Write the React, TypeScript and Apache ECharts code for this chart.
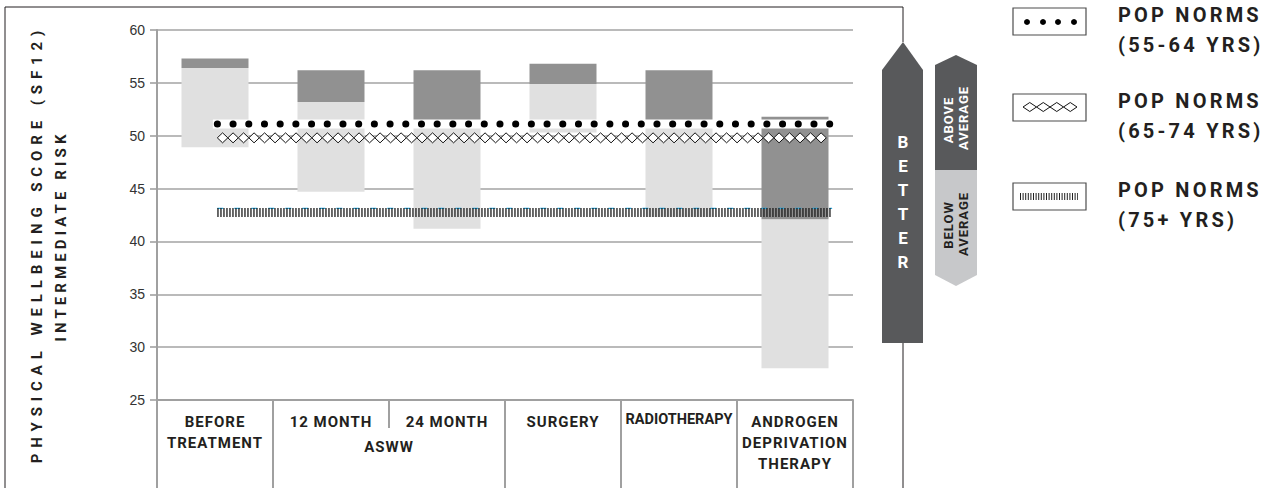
import { useEffect, useRef } from 'react';
import * as echarts from 'echarts';

// categories along the bottom, and the group label spanning two of them
const categories = ['BEFORE\nTREATMENT', '12 MONTH', '24 MONTH', 'SURGERY', 'RADIOTHERAPY', 'ANDROGEN\nDEPRIVATION\nTHERAPY'];
const groupLabels = [{ name: 'ASWW', from: 1, to: 2 }];

// floating ranges per category: light band low..mid, dark band mid..high
const rangeLow = [48.9, 44.7, 41.2, 50.3, 42.3, 28.0];
const rangeMid = [56.4, 53.2, 51.0, 54.9, 51.0, 42.1];
const rangeHigh = [57.3, 56.2, 56.2, 56.8, 56.2, 51.8];

// population norm reference lines
const norm5564 = 51.1;
const norm6574 = 49.8;
const norm75 = 42.74;
const norm75Ref = 43.13; // thin cyan line peeking out above the hatch
const normSpan = [0.52, 5.82]; // extent on the 0..6 category scale

const legendItems = [
  ['POP NORMS', '(55-64 YRS)'],
  ['POP NORMS', '(65-74 YRS)'],
  ['POP NORMS', '(75+ YRS)'],
];
const yTitle = ['PHYSICAL WELLBEING SCORE (SF12)', 'INTERMEDIATE RISK'];

const BASE = "Roboto, 'Liberation Sans', sans-serif";
// first family name is a dummy marker used by the css letter-spacing rules below
const F_TITLE1 = `tkY, ${BASE}`;
const F_TITLE2 = `tkZ, ${BASE}`;
const F_CAT = `tkC, ${BASE}`;
const F_TIGHT = `tkR, ${BASE}`;
const F_LEGEND = `tkL, ${BASE}`;
const F_AVG = `tkA, ${BASE}`;
const F_BETTER = `tkB, ${BASE}`;

const INK = '#231f20';
const GRID = '#a0a0a0';
const DARK = '#919191';
const LIGHT = '#e0e0e0';
const ARROW = '#58595b';

export default function App() {
  const ref = useRef<HTMLDivElement | null>(null);

  useEffect(() => {
    if (!ref.current) return;
    const chart = echarts.init(ref.current, undefined, { renderer: 'svg' });

    const lightVals = rangeMid.map((m, i) => +(m - rangeLow[i]).toFixed(2));
    const darkVals = rangeHigh.map((h, i) => +(h - rangeMid[i]).toFixed(2));
    const normLine = (v: number) => [[normSpan[0], v], [normSpan[1], v]];
    const boundaries = categories.map((_, i) => i).concat(categories.length);
    const inGroup = (b: number) => groupLabels.some((g) => b > g.from && b <= g.to);
    const longTicks = boundaries.filter((b) => !inGroup(b));
    const shortTicks = boundaries.filter(inGroup);
    const groupCenters = groupLabels.map((g) => (g.from + g.to + 1) / 2);

    const rotText = (text: string, x: number, y: number, font: string, fill: string) => ({
      type: 'text',
      x,
      y,
      rotation: Math.PI / 2,
      style: { text, fill, font, align: 'center', verticalAlign: 'middle' },
    });

    // legend swatches (decoration)
    const legendY = [8, 94, 183];
    const swatches: any[] = [];
    legendY.forEach((y, k) => {
      swatches.push({
        type: 'rect',
        shape: { x: 1013, y, width: 73, height: 27 },
        style: { fill: '#fff', stroke: '#4d4d4d', lineWidth: 1.2 },
      });
      legendItems[k].forEach((line, j) =>
        swatches.push({
          type: 'text',
          x: 1118,
          y: y + 7 + j * 29.5,
          style: { text: line, fill: INK, font: `bold 20px ${F_LEGEND}`, align: 'left', verticalAlign: 'middle' },
        })
      );
    });
    [1027, 1043, 1058, 1074].forEach((cx) =>
      swatches.push({ type: 'circle', shape: { cx, cy: 22, r: 3 }, style: { fill: '#000' } })
    );
    [0, 1, 2, 3].forEach((i) => {
      const x = 1023 + i * 13.5;
      swatches.push({
        type: 'polygon',
        shape: { points: [[x, 107], [x + 6.75, 102.5], [x + 13.5, 107], [x + 6.75, 111.5]] },
        style: { fill: '#fff', stroke: '#111', lineWidth: 1 },
      });
    });
    swatches.push({
      type: 'line',
      shape: { x1: 1020, y1: 196.5, x2: 1078, y2: 196.5 },
      style: { stroke: '#222', lineWidth: 7, lineDash: [1, 1.6] },
    });

    const hiddenValueAxis = {
      type: 'value',
      min: 0,
      max: 6,
      interval: 1,
      position: 'bottom',
      axisLine: { show: false },
      splitLine: { show: false },
    };

    chart.setOption({
      animation: false,
      grid: { left: 157, right: 427, top: 30, bottom: 88, outerBoundsMode: 'none' },
      xAxis: [
        {
          type: 'category',
          data: categories,
          position: 'bottom',
          axisLine: { lineStyle: { color: GRID, width: 2 } },
          axisTick: { show: false },
          axisLabel: {
            interval: 0,
            margin: 11.5,
            color: INK,
            fontSize: 15,
            fontWeight: 'bold',
            fontFamily: F_CAT,
            lineHeight: 21,
            formatter: (v: string) => (v === 'RADIOTHERAPY' ? `{r|${v}}` : v),
            rich: { r: { fontFamily: F_TIGHT, fontSize: 14.5, fontWeight: 'bold', lineHeight: 15, color: INK } },
          },
          splitLine: { show: false },
        },
        {
          ...hiddenValueAxis,
          axisTick: { show: true, customValues: longTicks, length: 88, lineStyle: { color: GRID, width: 2 } },
          axisLabel: { show: false },
        },
        {
          ...hiddenValueAxis,
          axisTick: { show: true, customValues: shortTicks, length: 28, lineStyle: { color: GRID, width: 2 } },
          axisLabel: {
            show: true,
            customValues: groupCenters,
            margin: 36.5,
            color: INK,
            fontSize: 15,
            fontWeight: 'bold',
            fontFamily: F_CAT,
            lineHeight: 21,
            formatter: (v: number) => groupLabels.find((g) => (g.from + g.to + 1) / 2 === v)?.name ?? '',
          },
        },
      ],
      yAxis: {
        type: 'value',
        min: 25,
        max: 60,
        interval: 5,
        axisLine: { show: true, lineStyle: { color: GRID, width: 2 } },
        axisTick: { show: true, length: 7, lineStyle: { color: GRID, width: 1.6 } },
        axisLabel: { margin: 12, fontSize: 14, color: '#333', fontFamily: "'Liberation Sans', Arial, sans-serif" },
        splitLine: { lineStyle: { color: '#a3a3a3', width: 1.6 } },
      },
      series: [
        {
          type: 'bar',
          stack: 'range',
          xAxisIndex: 0,
          barWidth: 67,
          silent: true,
          z: 2,
          itemStyle: { color: 'rgba(0,0,0,0)' },
          data: rangeLow,
        },
        {
          type: 'bar',
          stack: 'range',
          xAxisIndex: 0,
          barWidth: 67,
          z: 2,
          itemStyle: { color: LIGHT },
          data: lightVals,
        },
        {
          type: 'bar',
          stack: 'range',
          xAxisIndex: 0,
          barWidth: 67,
          z: 2,
          itemStyle: { color: DARK },
          data: darkVals,
        },
        {
          type: 'line',
          xAxisIndex: 1,
          symbol: 'none',
          z: 3,
          lineStyle: { color: '#fff', width: 9, cap: 'square' },
          data: normLine(norm5564),
        },
        {
          type: 'line',
          xAxisIndex: 1,
          symbol: 'none',
          z: 4,
          lineStyle: { color: '#000', width: 7, type: [0.1, 15.6], cap: 'round' },
          data: normLine(norm5564),
        },
        {
          type: 'custom',
          xAxisIndex: 1,
          z: 5,
          encode: { x: [0, 1], y: 2 },
          data: [[normSpan[0], normSpan[1], norm6574]],
          renderItem: (_params: any, api: any) => {
            const a = api.coord([api.value(0), api.value(2)]);
            const b = api.coord([api.value(1), api.value(2)]);
            const w = 10.5;
            const h = 10;
            const children: any[] = [];
            for (let x = a[0]; x + w <= b[0] + 1; x += w) {
              children.push({
                type: 'polygon',
                z2: 10,
                shape: { points: [[x, a[1]], [x + w / 2, a[1] - h / 2], [x + w, a[1]], [x + w / 2, a[1] + h / 2]] },
                style: { fill: '#fff', stroke: '#111', lineWidth: 1 },
              });
            }
            return { type: 'group', children };
          },
        },
        {
          type: 'line',
          xAxisIndex: 1,
          symbol: 'none',
          z: 5,
          lineStyle: { color: '#2aa9e0', width: 1.3, type: [6, 11] },
          data: normLine(norm75Ref),
        },
        {
          type: 'line',
          xAxisIndex: 1,
          symbol: 'none',
          z: 6,
          lineStyle: { color: '#1a1a1a', width: 9, type: [1.3, 1.7], cap: 'butt' },
          data: normLine(norm75),
        },
      ],
      graphic: [
        // outer frame
        {
          type: 'polyline',
          shape: { points: [[5, 488], [5, 7], [903, 7], [903, 42]] },
          style: { stroke: INK, lineWidth: 1, fill: null },
        },
        { type: 'line', shape: { x1: 903, y1: 343, x2: 903, y2: 488 }, style: { stroke: INK, lineWidth: 1 } },
        // y axis title
        rotText(yTitle[0], 37, 244, `bold 15px ${F_TITLE1}`, INK),
        rotText(yTitle[1], 61, 236, `bold 15px ${F_TITLE2}`, INK),
        // BETTER arrow
        {
          type: 'polygon',
          shape: { points: [[882, 70], [903, 42], [923, 70], [923, 343], [882, 343]] },
          style: { fill: ARROW },
        },
        {
          type: 'text',
          x: 903,
          y: 202,
          style: {
            text: 'B\nE\nT\nT\nE\nR',
            fill: '#fff',
            font: `bold 17px ${F_BETTER}`,
            lineHeight: 24,
            align: 'center',
            verticalAlign: 'middle',
          },
        },
        // above / below average marker
        {
          type: 'polygon',
          shape: { points: [[935, 65], [956, 55], [977, 65], [977, 170], [935, 170]] },
          style: { fill: ARROW },
        },
        {
          type: 'polygon',
          shape: { points: [[935, 170], [977, 170], [977, 275], [956, 286], [935, 275]] },
          style: { fill: '#c7c8ca' },
        },
        rotText('ABOVE', 948, 120, `bold 13px ${F_AVG}`, '#fff'),
        rotText('AVERAGE', 963, 118, `bold 13px ${F_AVG}`, '#fff'),
        rotText('BELOW', 948, 225, `bold 13px ${F_AVG}`, INK),
        rotText('AVERAGE', 963, 224, `bold 13px ${F_AVG}`, INK),
        ...swatches,
      ],
    });

    return () => {
      chart.dispose();
    };
  }, []);

  return (
    <>
      <style>{`
        text[style*="tkY"] { letter-spacing: 5.9px; }
        text[style*="tkZ"] { letter-spacing: 4.1px; }
        text[style*="tkC"] { letter-spacing: 1px; }
        text[style*="tkR"] { letter-spacing: 0px; }
        text[style*="tkL"] { letter-spacing: 3.2px; }
        text[style*="tkA"] { letter-spacing: 1px; }
      `}</style>
      <div
        ref={ref}
        style={{ position: 'fixed', left: 0, top: 0, width: 1280, height: 488, background: '#fff' }}
      />
    </>
  );
}
